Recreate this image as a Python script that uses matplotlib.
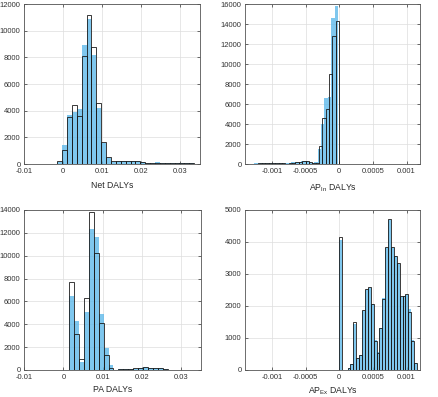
import matplotlib
matplotlib.use("Agg")
import matplotlib.pyplot as plt
import numpy as np

plt.rcParams["font.family"] = ["Liberation Sans", "DejaVu Sans"]

# ---- Net DALYs (bin width 0.00125) ----
net_start, net_width = -0.004, 0.00125
net_black = [10, 30, 200, 1050, 3500, 4400, 3600, 8100, 11200, 8800, 4600, 1650,
             500, 200, 220, 230, 230, 210, 200, 150, 100, 100, 110, 100, 100, 100,
             100, 90, 100, 90, 20, 20]
net_blue = [5, 20, 150, 1400, 3700, 3900, 4100, 8900, 10900, 8200, 4200, 1600,
            450, 180, 240, 250, 240, 220, 190, 140, 110, 100, 120, 110, 110, 100,
            110, 100, 90, 90, 20, 10]

# ---- AP In DALYs (bin width 0.00005) ----
apin_start_black, apin_start_blue, apin_width = -0.0014, -0.00142, 0.00005
apin_black = [30, 30, 40, 40, 100, 60, 80, 90, 90, 90, 90, 80, 50, 60, 150, 200,
              220, 260, 280, 230, 150, 80, 1800, 4600, 5500, 9000, 12800, 14300]
apin_blue = [20, 40, 30, 60, 90, 80, 90, 100, 100, 90, 90, 70, 60, 100, 180, 220,
             250, 280, 260, 200, 120, 250, 1500, 4000, 6570, 6730, 14600, 15800]

# ---- PA DALYs (bin width 0.00125) ----
pa_start, pa_width = -0.001, 0.00125
pa_black = [0, 0, 7700, 3150, 1000, 6300, 13800, 10200, 4100, 1300, 200, 20, 100,
            120, 120, 150, 200, 250, 180, 150, 150, 80, 30, 30, 30, 30, 30, 30, 30]
pa_blue = [0, 0, 6500, 4300, 700, 5100, 12300, 11600, 4900, 1900, 400, 30, 120,
           130, 120, 130, 180, 220, 200, 160, 140, 60, 30, 30, 30, 30, 30, 30, 30]

# ---- AP Ex DALYs (bin width ~0.000043) ----
apex_start, apex_width = -0.000005, 0.000043
apex_black = [4150, 0, 0, 50, 180, 1490, 370, 460, 1860, 2520, 2580, 2070, 920, 540,
              1320, 2230, 3840, 4720, 3830, 3570, 3330, 2310, 2300, 2370, 1820, 920, 210]
apex_blue = [4050, 0, 0, 60, 190, 1450, 380, 470, 1850, 2500, 2560, 2050, 930, 550,
             1300, 2240, 3800, 4700, 3800, 3550, 3300, 2280, 2320, 2350, 1900, 950, 230]

fig = plt.figure(figsize=(4.39, 3.97), dpi=100)

W, H = 439.0, 397.0


def make_ax(l, t, r, b):
    return fig.add_axes([l / W, 1 - b / H, (r - l) / W, (b - t) / H])


def draw(ax, s_blue, s_black, w, blue, black, xlim, ylim, xticks, xticklabels,
         yticks, xlabel, lpad):
    lb = s_blue + w * np.arange(len(blue))
    lk = s_black + w * np.arange(len(black))
    ax.bar(lb, blue, width=w, align="edge", color="#5bb8ea", alpha=0.78,
           linewidth=0, zorder=2)
    ax.bar(lk, black, width=w, align="edge", fill=False, edgecolor="#1a1a1a",
           linewidth=0.6, zorder=3)
    ax.set_xlim(*xlim)
    ax.set_ylim(*ylim)
    ax.set_xticks(xticks)
    ax.set_xticklabels(xticklabels)
    ax.set_yticks(yticks)
    ax.set_yticklabels([str(v) for v in yticks])
    ax.grid(True, color="#dddddd", linewidth=0.5)
    ax.set_axisbelow(True)
    ax.tick_params(direction="in", length=2, width=0.5, labelsize=5.5,
                   colors="#333333", top=True, right=True)
    ax.tick_params(axis="x", pad=3.2)
    ax.tick_params(axis="y", pad=2.5)
    for sp in ax.spines.values():
        sp.set_color("#555555")
        sp.set_linewidth(0.6)
    ax.set_xlabel(xlabel, fontsize=6.2, color="#262626", labelpad=lpad)


small_ticks = [-0.001, -0.0005, 0, 0.0005, 0.001]
small_labels = ["-0.001", "-0.0005", "0", "0.0005", "0.001"]
big_ticks = [-0.01, 0, 0.01, 0.02, 0.03]
big_labels = ["-0.01", "0", "0.01", "0.02", "0.03"]

ax1 = make_ax(24, 4, 200, 164)
draw(ax1, net_start, net_start, net_width, net_blue, net_black,
     (-0.01, 0.035), (0, 12000), big_ticks, big_labels,
     list(range(0, 12001, 2000)), "Net DALYs", 4)

ax2 = make_ax(245, 4, 420, 164)
draw(ax2, apin_start_blue, apin_start_black, apin_width, apin_blue, apin_black,
     (-0.0014, 0.0012), (0, 16000), small_ticks, small_labels,
     list(range(0, 16001, 2000)), r"AP$_{\mathregular{In}}$ DALYs", 4)

ax3 = make_ax(24, 210, 201, 370)
draw(ax3, pa_start, pa_start, pa_width, pa_blue, pa_black,
     (-0.01, 0.035), (0, 14000), big_ticks, big_labels,
     list(range(0, 14001, 2000)), "PA DALYs", 2.5)

ax4 = make_ax(245, 210, 420, 370)
draw(ax4, apex_start, apex_start, apex_width, apex_blue, apex_black,
     (-0.0014, 0.0012), (0, 5000), small_ticks, small_labels,
     list(range(0, 5001, 1000)), r"AP$_{\mathregular{Ex}}$ DALYs", 2.5)

fig.savefig("out.png", dpi=100)
